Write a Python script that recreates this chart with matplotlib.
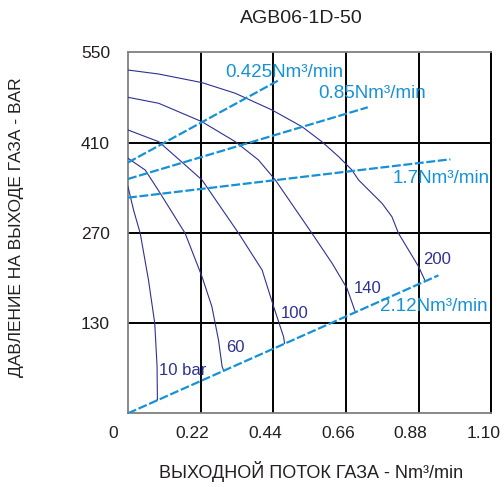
import matplotlib
matplotlib.use("Agg")
import matplotlib.pyplot as plt
from matplotlib.transforms import ScaledTranslation

plt.rcParams['font.family'] = ['Liberation Sans', 'DejaVu Sans']

title = "AGB06-1D-50"
xlabel = "ВЫХОДНОЙ ПОТОК ГАЗА - Nm³/min"
ylabel = "ДАВЛЕНИЕ НА ВЫХОДЕ ГАЗА - BAR"

xticks = [0, 0.22, 0.44, 0.66, 0.88, 1.10]
xticklabels = ["0", "0.22", "0.44", "0.66", "0.88", "1.10"]
yticks = [130, 270, 410, 550]
yticklabels = ["130", "270", "410", "550"]

# pressure curves (flow, pressure)
c10_x = [0.0, 0.017, 0.037, 0.062, 0.081, 0.088, 0.089]
c10_y = [341.5, 305, 269.2, 196.8, 129.6, 62.3, 10.6]
c60_x = [0.0, 0.052, 0.093, 0.173, 0.224, 0.254, 0.274, 0.285, 0.290]
c60_y = [385.6, 367.4, 335, 269.2, 202, 155.4, 103.7, 62.3, 56]
c100_x = [0.0, 0.093, 0.156, 0.224, 0.335, 0.406, 0.441, 0.461, 0.471, 0.474]
c100_y = [429.5, 411.3, 383, 352, 269.2, 212.3, 155.4, 124.3, 108.8, 98.6]
c140_x = [0.0, 0.093, 0.224, 0.325, 0.395, 0.446, 0.557, 0.618, 0.663, 0.688]
c140_y = [480.2, 470.9, 442.3, 411.3, 383, 352, 269.2, 222.7, 184, 147.6]
c200_x = [0.0, 0.093, 0.224, 0.325, 0.436, 0.527, 0.587, 0.638, 0.678, 0.698, 0.769, 0.799, 0.819, 0.88, 0.90]
c200_y = [522.5, 516.3, 503, 486.4, 460.5, 434.6, 411.3, 388, 367.4, 352, 315.8, 295, 269.2, 217.4, 195]

curve_labels = ["10 bar", "60", "100", "140", "200"]
curve_label_x = [0.093, 0.298, 0.461, 0.683, 0.895]
curve_label_y = [57, 92.4, 145, 184, 228]

# constant-flow dashed lines
f_names = ["0.425Nm³/min", "0.85Nm³/min", "1.7Nm³/min", "2.12Nm³/min"]
f_x = [[0.0, 0.454], [0.0, 0.726], [0.0, 0.976], [0.0, 0.94]]
f_y = [[379, 506], [353.5, 464.7], [324.5, 384], [-10, 204]]
f_label_x = [0.294, 0.577, 0.80, 0.764]
f_label_y = [518, 486, 353.5, 155]

navy = '#2e3192'
blue = '#1592d6'
txt = '#231f20'

fig = plt.figure(figsize=(5.04, 4.87), dpi=100)
ax = fig.add_axes([128/504, (487-413.3)/487, 363.3/504, 361/487])
ax.set_xlim(0, 1.10)
ax.set_ylim(-10, 550)

for gx in xticks[1:]:
    ax.axvline(gx, color='black', lw=1.4, zorder=1)
for gy in yticks[:-1]:
    ax.axhline(gy, color='black', lw=1.4, zorder=1)

for cx, cy in [(c10_x, c10_y), (c60_x, c60_y), (c100_x, c100_y), (c140_x, c140_y), (c200_x, c200_y)]:
    ax.plot(cx, cy, color=navy, lw=0.8, zorder=3)

for lab, lx, ly in zip(curve_labels, curve_label_x, curve_label_y):
    ax.text(lx, ly, lab, color=navy, fontsize=12, ha='left', va='center', zorder=5)

for xs, ys in zip(f_x, f_y):
    ax.plot(xs, ys, color=blue, lw=1.6, dashes=(4, 1.2), zorder=4)

for lab, lx, ly in zip(f_names, f_label_x, f_label_y):
    ax.text(lx, ly, lab, color=blue, fontsize=13.5, ha='left', va='center', zorder=5)

ax.set_xticks(xticks)
ax.set_xticklabels(xticklabels)
ax.set_yticks(yticks)
ax.set_yticklabels(yticklabels)
ax.tick_params(axis='both', length=0, labelsize=12.5, colors=txt)
ax.tick_params(axis='x', pad=9)
ax.tick_params(axis='y', pad=13)
for i, lbl in enumerate(ax.get_xticklabels()):
    dx = -15 if i == 0 else -8
    lbl.set_transform(lbl.get_transform() + ScaledTranslation(dx/100, 0, fig.dpi_scale_trans))

for s in ['left', 'bottom', 'top']:
    ax.spines[s].set_color('#808080')
    ax.spines[s].set_linewidth(1.3)
ax.spines['right'].set_color('black')
ax.spines['right'].set_linewidth(1.4)

fig.text(301.5/504, 1-18.5/487, title, ha='center', va='center', fontsize=14, color=txt)
fig.text(311/504, 1-472/487, xlabel, ha='center', va='center', fontsize=13, color=txt)
fig.text(17/504, 1-227/487, ylabel, ha='center', va='center', fontsize=12.5, color=txt, rotation=90)

fig.savefig('out.png', dpi=100)
